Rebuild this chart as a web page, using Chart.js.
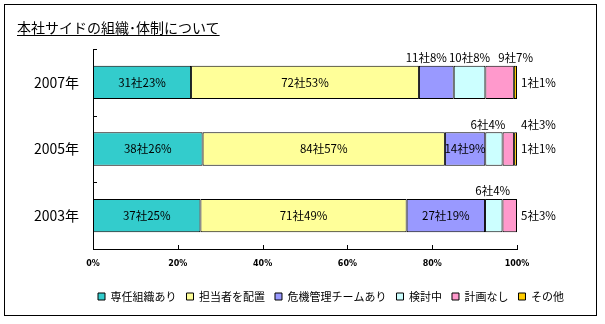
<!DOCTYPE html>
<html><head><meta charset="utf-8">
<script src="https://cdn.jsdelivr.net/npm/chart.js@4.4.1/dist/chart.umd.min.js"></script>
<style>
html,body{margin:0;padding:0;background:#fff;}
#wrap{position:relative;width:605px;height:324px;}
#title{position:absolute;left:17px;top:19px;font-size:14px;line-height:16px;font-family:"Noto Sans CJK JP",sans-serif;color:#000;text-decoration:underline;text-underline-offset:2px;white-space:nowrap;}
canvas{position:absolute;left:0;top:0;}
</style></head>
<body>
<div id="wrap">
<canvas id="c" width="605" height="324"></canvas>
<div id="title">本社サイドの組織･体制について</div>
</div>
<script>
// ---- data ----
const categories = ['2007年', '2005年', '2003年'];
const seriesNames = ['専任組織あり', '担当者を配置', '危機管理チームあり', '検討中', '計画なし', 'その他'];
// company counts (plotted as 100% stacked shares)
const cntSenin   = [31, 38, 37];
const cntTanto   = [72, 84, 71];
const cntKiki    = [11, 14, 27];
const cntKento   = [10, 6, 6];
const cntKeikaku = [9, 4, 5];
const cntSonota  = [1, 1, 0];
// percentages as printed in the labels
const pctSenin   = [23, 26, 25];
const pctTanto   = [53, 57, 49];
const pctKiki    = [8, 9, 19];
const pctKento   = [8, 4, 4];
const pctKeikaku = [7, 3, 3];
const pctSonota  = [1, 1, 0];
const xTickLabels = ['0%', '20%', '40%', '60%', '80%', '100%'];

const pctSeries = [pctSenin, pctTanto, pctKiki, pctKento, pctKeikaku, pctSonota];
const cntSeries = [cntSenin, cntTanto, cntKiki, cntKento, cntKeikaku, cntSonota];
// 100% stacking: share of each row total
const rowTotals = categories.map((_, i) => cntSeries.reduce((a, s) => a + s[i], 0));
const shareSeries = cntSeries.map(s => s.map((v, i) => v / rowTotals[i] * 100));

// ---- styles / label layout (not data) ----
const colors = ['#33CCCC', '#FFFF99', '#9999FF', '#CCFFFF', '#FF99CC', '#FFCC00'];
const labelMode = [
  ['in', 'in', 'in'],
  ['in', 'in', 'in'],
  ['above', 'in', 'in'],
  ['above', 'above', 'above'],
  ['above', 'aboveRight', 'right'],
  ['right', 'right', 'none']
];
const labelNudge = [
  [0, 0, 0], [0, 0, 0], [-10, 0, 0], [0, -6, -1], [16, 0, 0], [0, 0, 0]
];
const FONT = '"Noto Sans CJK JP", sans-serif';

const datasets = seriesNames.map((name, s) => ({
  label: name,
  data: shareSeries[s],
  backgroundColor: colors[s],
  borderColor: '#000',
  borderWidth: 1,
  borderSkipped: false,
  barPercentage: 0.5,
  categoryPercentage: 1.0
}));

const framePlugin = {
  id: 'frame',
  afterLayout(chart) {
    const lg = chart.legend;
    if (lg) { lg.left = 88; lg.right = 605; }
  },
  beforeDraw(chart) {
    const ctx = chart.ctx;
    ctx.save();
    ctx.fillStyle = '#fff';
    ctx.fillRect(0, 0, chart.width, chart.height);
    ctx.strokeStyle = '#000';
    ctx.lineWidth = 1;
    ctx.strokeRect(4.5, 4.5, 592, 311);
    ctx.restore();
  },
  afterDatasetsDraw(chart) {
    const ctx = chart.ctx;
    const xs = chart.scales.x, ys = chart.scales.y;
    ctx.save();
    ctx.strokeStyle = '#000';
    ctx.lineWidth = 1;
    ctx.beginPath();
    xs.ticks.forEach(t => {
      if (t.value <= 0) return;
      const px = Math.round(xs.getPixelForValue(t.value)) + 0.5;
      ctx.moveTo(px, xs.top); ctx.lineTo(px, xs.top - 4);
    });
    for (let i = 0; i < categories.length; i++) {
      const py = Math.round(ys.getPixelForValue(i - 0.5)) + 0.5;
      ctx.moveTo(ys.right, py); ctx.lineTo(ys.right + 4, py);
    }
    ctx.stroke();

    // data labels
    ctx.fillStyle = '#000';
    ctx.font = '11.5px ' + FONT;
    chart.data.datasets.forEach((ds, s) => {
      const meta = chart.getDatasetMeta(s);
      meta.data.forEach((bar, i) => {
        const mode = labelMode[s][i];
        if (mode === 'none' || !cntSeries[s][i]) return;
        const txt = cntSeries[s][i] + '社' + pctSeries[s][i] + '%';
        const left = Math.min(bar.x, bar.base), right = Math.max(bar.x, bar.base);
        const h = bar.height;
        const dx = labelNudge[s][i];
        let x, y;
        ctx.textBaseline = 'middle';
        if (mode === 'in') {
          ctx.textAlign = 'center'; x = (left + right) / 2; y = bar.y;
        } else if (mode === 'above') {
          ctx.textAlign = 'center'; x = (left + right) / 2; y = bar.y - h / 2 - 8;
        } else if (mode === 'aboveRight') {
          ctx.textAlign = 'left'; x = xs.right + 4; y = bar.y - h / 2 - 8;
        } else {
          ctx.textAlign = 'left'; x = xs.right + 4; y = bar.y;
        }
        ctx.fillText(txt, x + dx, y);
      });
    });
    ctx.restore();
  }
};

new Chart(document.getElementById('c'), {
  type: 'bar',
  data: { labels: categories, datasets },
  options: {
    indexAxis: 'y',
    responsive: false,
    animation: false,
    devicePixelRatio: 1,
    layout: { padding: { left: 10, right: 88, top: 49, bottom: 12 } },
    scales: {
      x: {
        stacked: true, min: 0, max: 100,
        grid: { display: false, drawTicks: false },
        border: { display: true, color: '#000', width: 1 },
        ticks: {
          stepSize: 20, padding: 10, color: '#000',
          font: { family: '"DejaVu Sans", sans-serif', size: 8, weight: 'bold' },
          callback: (v, idx) => xTickLabels[idx]
        },
        afterFit(scale) { scale.height = 32; }
      },
      y: {
        stacked: true,
        grid: { display: false, drawTicks: false },
        border: { display: true, color: '#000', width: 1 },
        ticks: { padding: 14, color: '#000', font: { family: FONT, size: 14 } },
        afterFit(scale) { scale.width = 83; }
      }
    },
    plugins: {
      legend: {
        display: true, position: 'bottom', align: 'start',
        labels: { boxWidth: 7, boxHeight: 7, padding: 10, color: '#000', font: { family: FONT, size: 11 } }
      },
      tooltip: { enabled: false },
      title: { display: false }
    }
  },
  plugins: [framePlugin]
});
</script>
</body></html>
